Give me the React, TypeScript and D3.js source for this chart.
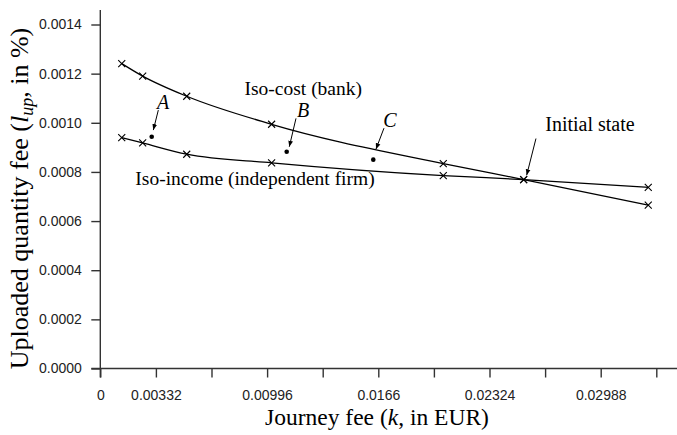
import * as d3 from "d3";
import { useEffect, useRef } from "react";

// journey fee k (EUR) at the computed points
const journeyFee = [0.00128, 0.00253, 0.00516, 0.01023, 0.02048, 0.02528, 0.03272];
// uploaded quantity fee along the iso-cost curve (bank)
const isoCost = [0.001241, 0.00119, 0.001108, 0.000994, 0.000834, 0.000769, 0.000665];
// uploaded quantity fee along the iso-income curve (independent firm)
const isoIncome = [0.00094, 0.000918, 0.000872, 0.000837, 0.000785, 0.000769, 0.000737];

const pointNames = ["A", "B", "C"];
const pointK = [0.00307, 0.01113, 0.0163];
const pointL = [0.000943, 0.000882, 0.00085];

const xTickCount = 10;
const xTickStep = 0.00332;
const xTickLabels = ["0", "0.00332", "", "0.00996", "", "0.0166", "", "0.02324", "", "0.02988", ""];
const yTicks = [0, 0.0002, 0.0004, 0.0006, 0.0008, 0.001, 0.0012, 0.0014];

const W = 677, H = 435;

const App = () => {
    const ref = useRef(null);

    useEffect(() => {
        const svg = d3.select(ref.current);
        svg.selectAll("*").remove();

        var x0 = 100.3, x10 = 656.3;
        var xScale = d3.scaleLinear().domain([0, xTickStep * xTickCount]).range([x0, x10]);
        var yScale = d3.scaleLinear().domain([0, 0.0014]).range([368.5, 24.5]);
        var yTop = yScale.invert(10);

        // arrow head
        svg.append("defs").append("marker")
            .attr("id", "arr")
            .attr("viewBox", "0 0 10 10")
            .attr("refX", 10).attr("refY", 5)
            .attr("markerWidth", 6).attr("markerHeight", 6)
            .attr("markerUnits", "userSpaceOnUse")
            .attr("orient", "auto")
            .append("path").attr("d", "M0,1 L10,5 L0,9 z").attr("fill", "#000");

        // axes
        var xTickVals = d3.range(xTickCount + 1).map(i => i * xTickStep);
        var xAxis = svg.append("g")
            .attr("transform", "translate(0," + yScale(0) + ")")
            .call(d3.axisBottom(xScale).tickValues(xTickVals).tickSize(9).tickSizeOuter(0)
                .tickFormat((d, i) => xTickLabels[i]));
        xAxis.select(".domain").attr("d", "M" + (x0 - 9) + ",0H" + W);

        var yAxis = svg.append("g")
            .attr("transform", "translate(" + x0 + ",0)")
            .call(d3.axisLeft(yScale).tickValues(yTicks).tickSize(9).tickSizeOuter(0)
                .tickFormat(d3.format(".4f")));
        yAxis.select(".domain").attr("d", "M0," + yScale(yTop) + "V" + (yScale(0) + 9));

        [xAxis, yAxis].forEach(ax => {
            ax.selectAll(".domain, line").attr("stroke", "#333").attr("stroke-width", 1.4);
            ax.selectAll("text").attr("fill", "#222")
                .attr("font-family", "'Liberation Sans', Arial, sans-serif").attr("font-size", 14);
        });
        xAxis.selectAll("text").attr("dy", null).attr("y", 31);
        yAxis.selectAll("text").attr("x", -18.5);

        // curves
        var line = d3.line().curve(d3.curveMonotoneX);
        [isoCost, isoIncome].forEach(series => {
            var pts = series.map((v, i) => [xScale(journeyFee[i]), yScale(v)]);
            svg.append("path").attr("d", line(pts))
                .attr("fill", "none").attr("stroke", "#000").attr("stroke-width", 1.3);
            svg.append("g").selectAll("path").data(pts).enter().append("path")
                .attr("d", d => "M" + (d[0] - 3.5) + "," + (d[1] - 3.5) + "l7,7M" + (d[0] - 3.5) + "," + (d[1] + 3.5) + "l7,-7")
                .attr("stroke", "#000").attr("stroke-width", 1.1);
        });

        var serif = "'Liberation Serif', 'Times New Roman', serif";

        svg.append("text").attr("x", xScale(0.01212)).attr("y", yScale(0.001112))
            .attr("text-anchor", "middle").attr("font-family", serif).attr("font-size", 19.5)
            .text("Iso-cost (bank)");
        svg.append("text").attr("x", xScale(0.00924)).attr("y", yScale(0.000746))
            .attr("text-anchor", "middle").attr("font-family", serif).attr("font-size", 19.5)
            .text("Iso-income (independent firm)");

        // A, B, C points with arrows
        var tips = [[1.6, -6.7, 6.6, -26.7, 11.3, -28], [2.6, -5, 9.3, -33.4, 16.3, -34.7], [2.7, -10.5, 10.7, -31.5, 16.7, -32.5]];
        pointNames.forEach((name, i) => {
            var px = xScale(pointK[i]), py = yScale(pointL[i]);
            var t = tips[i];
            svg.append("circle").attr("cx", px).attr("cy", py).attr("r", 2.3).attr("fill", "#000");
            svg.append("line").attr("x1", px + t[2]).attr("y1", py + t[3]).attr("x2", px + t[0]).attr("y2", py + t[1])
                .attr("stroke", "#000").attr("stroke-width", 1).attr("marker-end", "url(#arr)");
            svg.append("text").attr("x", px + t[4]).attr("y", py + t[5])
                .attr("text-anchor", "middle").attr("font-family", serif).attr("font-style", "italic")
                .attr("font-size", 20).text(name);
        });

        // initial state
        var ix = xScale(journeyFee[5]), iy = yScale(isoCost[5]);
        svg.append("line").attr("x1", ix + 12.3).attr("y1", iy - 41).attr("x2", ix + 3).attr("y2", iy - 4.3)
            .attr("stroke", "#000").attr("stroke-width", 1).attr("marker-end", "url(#arr)");
        svg.append("text").attr("x", ix + 66.3).attr("y", iy - 49)
            .attr("text-anchor", "middle").attr("font-family", serif).attr("font-size", 20)
            .text("Initial state");

        // axis titles
        var xt = svg.append("text").attr("x", 377).attr("y", 425)
            .attr("text-anchor", "middle").attr("font-family", serif).attr("font-size", 23.5);
        xt.append("tspan").text("Journey fee (");
        xt.append("tspan").attr("font-style", "italic").text("k");
        xt.append("tspan").text(", in EUR)");

        var yt = svg.append("text").attr("transform", "translate(28,198.5) rotate(-90)")
            .attr("text-anchor", "middle").attr("font-family", serif).attr("font-size", 26);
        yt.append("tspan").text("Uploaded quantity fee (");
        yt.append("tspan").attr("font-style", "italic").text("l");
        yt.append("tspan").attr("font-style", "italic").attr("font-size", 18).attr("dy", 5).text("up");
        yt.append("tspan").attr("dy", -5).text(", in %)");
    });

    return (
        <svg ref={ref} width={W} height={H} style={{ position: "absolute", left: 0, top: 0, background: "#fff" }} />
    );
};

export default App;
